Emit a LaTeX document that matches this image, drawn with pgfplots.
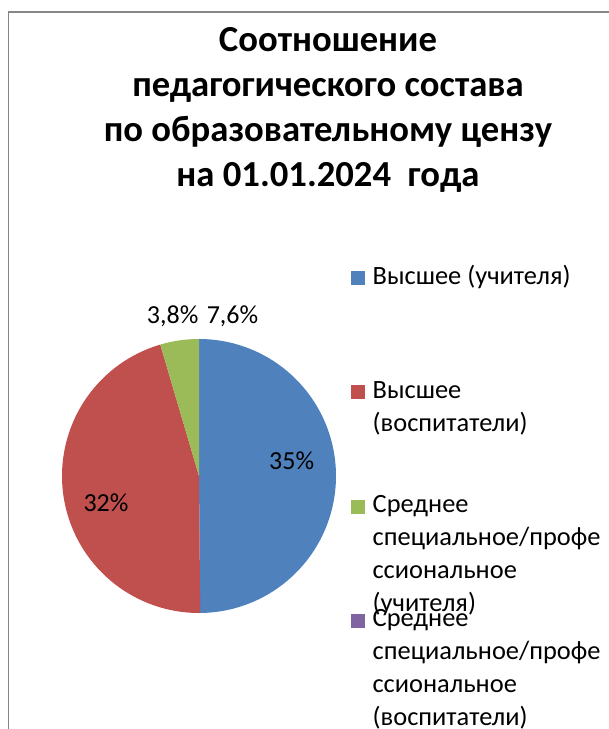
\documentclass[border=0pt]{standalone}
\usepackage{pgfplots}
\usepackage{pgfplotstable}
\pgfplotsset{compat=1.18}
\usepackage{fontspec}
\setmainfont{Carlito}
\definecolor{cA}{HTML}{4F81BD}
\definecolor{cB}{HTML}{C0504D}
\definecolor{cC}{HTML}{9BBB59}
\definecolor{cD}{HTML}{8064A2}
\definecolor{frame}{HTML}{868686}

% slice values (shares of the pie)
\pgfplotstableread{
slice value
A 35
B 32
C 3.2
D 0
}\piedata
\pgfplotstablegetelem{0}{value}\of\piedata \let\vA\pgfplotsretval
\pgfplotstablegetelem{1}{value}\of\piedata \let\vB\pgfplotsretval
\pgfplotstablegetelem{2}{value}\of\piedata \let\vC\pgfplotsretval
\pgfplotstablegetelem{3}{value}\of\piedata \let\vD\pgfplotsretval
\pgfmathsetmacro\tot{\vA+\vB+\vC+\vD}
\pgfmathsetmacro\aA{90}
\pgfmathsetmacro\aB{90-360*\vA/\tot}
\pgfmathsetmacro\aC{\aB-360*\vB/\tot}
\pgfmathsetmacro\aD{\aC-360*\vC/\tot}
\def\cx{199}
\def\cy{253}
\def\rr{137}

\begin{document}
\begin{tikzpicture}
\begin{axis}[
  at={(0,0)}, anchor=south west,
  scale only axis, width=456.75pt, height=546.75pt,
  xmin=0, xmax=609, ymin=0, ymax=729,
  hide axis, clip=false,
  legend image code/.code={\fill[#1] (0pt,0pt) rectangle (10.5pt,10.5pt);},
  legend cell align=left,
  legend style={at={(axis cs:350.7,458)}, anchor=north west, draw=none, fill=none,
    inner sep=0pt, outer sep=0pt, row sep=74.5pt, column sep=6pt,
    font=\fontsize{19.8}{24.75}\selectfont,
    nodes={inner sep=0pt, anchor=west}},
]
\addplot[fill=cA, draw=none, domain=\aB:\aA, samples=120, forget plot]
  ({\cx+\rr*cos(x)},{\cy+\rr*sin(x)}) -- (axis cs:\cx,\cy) -- cycle;
\addplot[fill=cB, draw=none, domain=\aC:\aB, samples=120, forget plot]
  ({\cx+\rr*cos(x)},{\cy+\rr*sin(x)}) -- (axis cs:\cx,\cy) -- cycle;
\addplot[fill=cC, draw=none, domain=\aD:\aC, samples=20, forget plot]
  ({\cx+\rr*cos(x)},{\cy+\rr*sin(x)}) -- (axis cs:\cx,\cy) -- cycle;

\addlegendimage{fill=cA, draw=none}
\addlegendentry{\smash{\parbox[t]{6cm}{Высшее (учителя)}}}
\addlegendimage{fill=cB, draw=none}
\addlegendentry{\smash{\parbox[t]{6cm}{Высшее\\(воспитатели)}}}
\addlegendimage{fill=cC, draw=none}
\addlegendentry{\smash{\parbox[t]{6cm}{Среднее\\специальное/профе\\ссиональное\\(учителя)}}}
\addlegendimage{fill=cD, draw=none}
\addlegendentry{\smash{\parbox[t]{6cm}{Среднее\\специальное/профе\\ссиональное\\(воспитатели)}}}

% frame
\draw[frame, line width=1.1pt] (axis cs:609,717) -- (axis cs:8.5,717) -- (axis cs:8.5,0);

% title
\begin{scope}[every node/.style={anchor=base, font=\bfseries\fontsize{27.5}{33}\selectfont}]
\node at (axis cs:328,677.3) {Соотношение};
\node at (axis cs:328,632.3) {педагогического состава};
\node at (axis cs:328,587.3) {по образовательному цензу};
\node at (axis cs:328,542.3) {на 01.01.2024~~года};
\end{scope}

% data labels
\begin{scope}[every node/.style={anchor=base, font=\fontsize{19.5}{24}\selectfont}]
\node at (axis cs:291.7,259) {35\%};
\node at (axis cs:106,217.3) {32\%};
\node at (axis cs:172.7,405.7) {3,8\%};
\node at (axis cs:232.5,405.7) {7,6\%};
\end{scope}
\end{axis}
\pgfresetboundingbox
\path (0,0) rectangle (456.75pt,546.75pt);
\end{tikzpicture}
\end{document}
